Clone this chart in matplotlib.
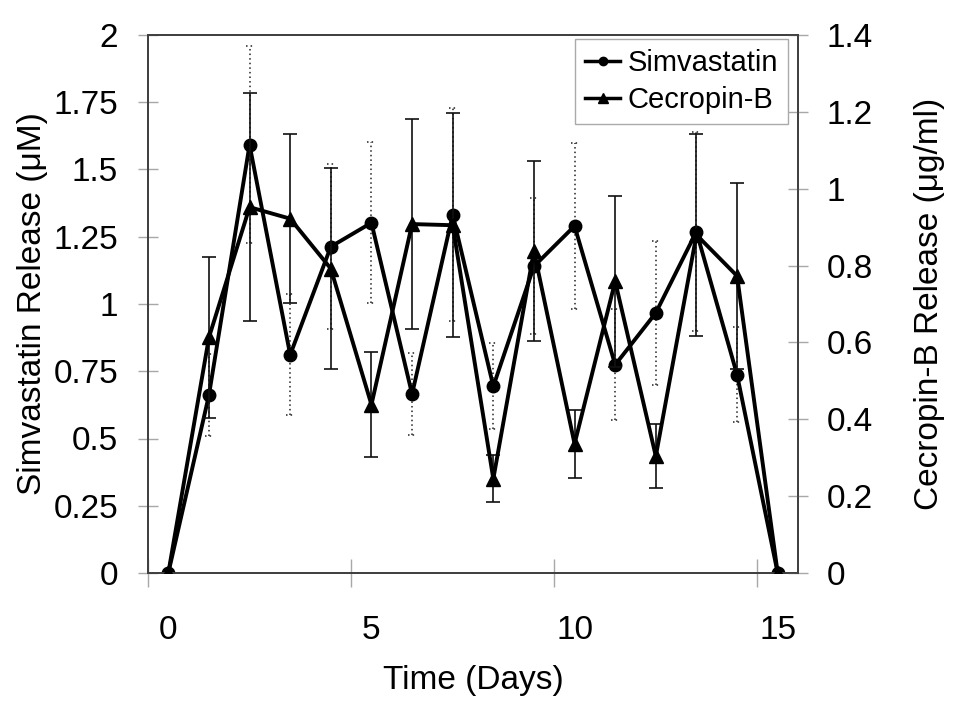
import matplotlib
matplotlib.use('Agg')
import matplotlib.pyplot as plt
from matplotlib.lines import Line2D
import numpy as np

plt.rcParams['font.family'] = ['Liberation Sans', 'DejaVu Sans']

days = list(range(16))
simv = [0, 0.661, 1.592, 0.811, 1.213, 1.302, 0.665, 1.332, 0.694, 1.140, 1.290, 0.774, 0.967, 1.269, 0.737, 0]
simv_err = [0, 0.153, 0.367, 0.225, 0.306, 0.299, 0.152, 0.397, 0.160, 0.253, 0.309, 0.206, 0.269, 0.371, 0.176, 0]
cecb = [0, 0.613, 0.952, 0.922, 0.792, 0.438, 0.908, 0.905, 0.245, 0.838, 0.336, 0.759, 0.304, 0.880, 0.773, 0]
cecb_err = [0, 0.210, 0.296, 0.220, 0.262, 0.136, 0.274, 0.292, 0.061, 0.234, 0.088, 0.223, 0.084, 0.263, 0.242, 0]

x_ticks = [0, 5, 10, 15]
x_marks = [-0.5, 4.5, 9.5, 14.5]
left_ticks = [0, 0.25, 0.5, 0.75, 1, 1.25, 1.5, 1.75, 2]
left_labels = ['0', '0.25', '0.5', '0.75', '1', '1.25', '1.5', '1.75', '2']
right_ticks = [0, 0.2, 0.4, 0.6, 0.8, 1.0, 1.2, 1.4]
right_labels = ['0', '0.2', '0.4', '0.6', '0.8', '1', '1.2', '1.4']

fig = plt.figure(figsize=(9.67, 7.08), dpi=100)
ax1 = fig.add_axes([148/967, 1-573/708, 650/967, 538/708])
ax2 = ax1.twinx()

d = np.array(days, dtype=float)
s = np.array(simv)
se = np.array(simv_err)
c = np.array(cecb)
ce = np.array(cecb_err)
m = se > 0
# dotted simvastatin error bars
ax1.vlines(d[m], (s - se)[m], (s + se)[m], colors='#222222', linestyles=(0, (1, 2)), lw=1.1, zorder=2)
capw = 0.1
ax1.hlines((s + se)[m], d[m] - capw, d[m] + capw, colors='#222222', linestyles=(0, (1, 2)), lw=1.1, zorder=2)
ax1.hlines((s - se)[m], d[m] - capw, d[m] + capw, colors='#222222', linestyles=(0, (1, 2)), lw=1.1, zorder=2)
ax1.plot(d, s, '-o', color='black', lw=2.8, ms=9, zorder=3)

mc = ce > 0
ax2.errorbar(d[mc], c[mc], yerr=ce[mc], fmt='none', ecolor='#111111', elinewidth=1.2, capsize=5, capthick=1.2, zorder=2)
ax2.plot(d, c, '-^', color='black', lw=2.8, ms=10, zorder=3)

ax1.set_xlim(-0.5, 15.5)
ax1.set_ylim(0, 2)
ax2.set_ylim(0, 1.4)

ax1.set_xticks(x_ticks)
ax1.set_xticks(x_marks, minor=True)
ax1.tick_params(axis='x', which='major', length=0, pad=30, labelsize=24)
ax1.tick_params(axis='x', which='minor', direction='inout', length=20, color='#a8a8a8', width=1)

ax1.set_yticks(left_ticks)
ax1.set_yticklabels(left_labels)
ax1.tick_params(axis='y', direction='inout', length=14, color='#a8a8a8', width=1, pad=14.5, labelsize=24)
ax2.set_yticks(right_ticks)
ax2.set_yticklabels(right_labels)
ax2.tick_params(axis='y', direction='inout', length=14, color='#a8a8a8', width=1, pad=13.5, labelsize=24)

for ax in (ax1, ax2):
    for sp in ax.spines.values():
        sp.set_color('#404040')
        sp.set_linewidth(1.3)

ax1.set_xlabel('Time (Days)', fontsize=24, labelpad=14)
ax1.set_ylabel('Simvastatin Release (\u03bcM)', fontsize=24, labelpad=4)
ax2.set_ylabel('Cecropin-B Release (\u03bcg/ml)', fontsize=24, labelpad=30)

handles = [Line2D([], [], color='black', lw=2.5, marker='o', ms=6),
           Line2D([], [], color='black', lw=2.5, marker='^', ms=7)]
leg = ax2.legend(handles, ['Simvastatin', 'Cecropin-B'], loc='upper right',
                 bbox_to_anchor=((788-148)/650, (573-39)/538), borderaxespad=0,
                 fontsize=21, frameon=True, fancybox=False, edgecolor='#aaaaaa',
                 framealpha=1, handlelength=1.2, handletextpad=0.25, labelspacing=0.3,
                 borderpad=0.35)
leg.get_frame().set_linewidth(1)

fig.savefig('out.png', dpi=100)
